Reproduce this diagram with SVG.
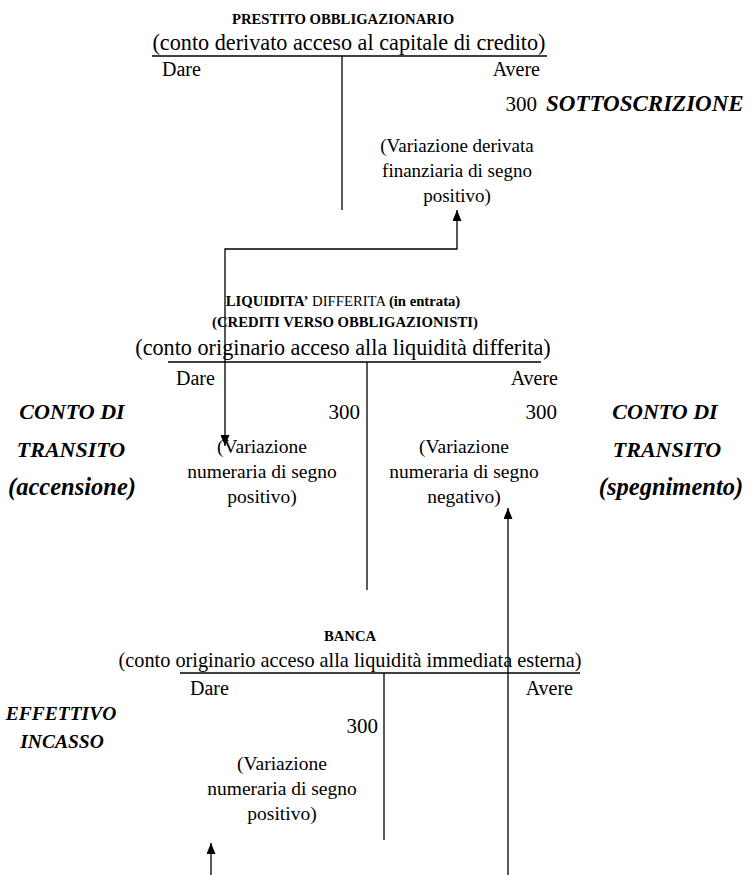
<svg xmlns="http://www.w3.org/2000/svg" width="754" height="875" viewBox="0 0 754 875">
<defs>
<marker id="arr" viewBox="0 0 11 9" markerWidth="11" markerHeight="9" refX="11" refY="4.5" orient="auto-start-reverse" markerUnits="userSpaceOnUse">
<path d="M0,0 L11,4.5 L0,9 z" fill="#000"/>
</marker>
<style>
text{font-family:"Liberation Serif","Times New Roman",Times,serif;fill:#000}
.h{font-size:14.7px;font-weight:bold}
.s{font-size:22.2px}
.da{font-size:20px}
.n{font-size:21px}
.v{font-size:19.5px}
.bi{font-size:22px;font-weight:bold;font-style:italic}
.bp{font-size:24.5px;font-weight:bold;font-style:italic}
.m{text-anchor:middle}
.e{text-anchor:end}
.ln{stroke:#000;stroke-width:1.3;fill:none}
</style>
</defs>
<rect width="754" height="875" fill="#fff"/>

<g id="prestito">
<text class="h m" x="343" y="24">PRESTITO OBBLIGAZIONARIO</text>
<text class="s m" x="349" y="50">(conto derivato acceso al capitale di credito)</text>
<line class="ln" x1="152" y1="56" x2="547" y2="56"/>
<line class="ln" x1="342" y1="56" x2="342" y2="210"/>
<text class="da" x="162" y="76">Dare</text>
<text class="da e" x="540" y="76">Avere</text>
<text class="n e" x="537" y="111">300</text>
<text class="bi" x="546" y="111" style="font-size:23px">SOTTOSCRIZIONE</text>
<text class="v m" x="457" y="152" style="font-size:19px">(Variazione derivata</text>
<text class="v m" x="457" y="177" style="font-size:19px">finanziaria di segno</text>
<text class="v m" x="457" y="202" style="font-size:19px">positivo)</text>
</g>

<g id="liquidita">
<text class="h m" x="343" y="306"><tspan>LIQUIDITA’</tspan><tspan font-weight="normal"> DIFFERITA </tspan><tspan>(in entrata)</tspan></text>
<text class="h m" x="345" y="327">(CREDITI VERSO OBBLIGAZIONISTI)</text>
<text class="s m" x="343" y="355">(conto originario acceso alla liquidità differita)</text>
<line class="ln" x1="168" y1="362" x2="541" y2="362"/>
<line class="ln" x1="367" y1="362" x2="367" y2="590"/>
<text class="da" x="176" y="385">Dare</text>
<text class="da e" x="558" y="385">Avere</text>
<text class="n e" x="360" y="419">300</text>
<text class="n e" x="557" y="419">300</text>
<text class="v m" x="262" y="453">(Variazione</text>
<text class="v m" x="262" y="478">numeraria di segno</text>
<text class="v m" x="262" y="503">positivo)</text>
<text class="v m" x="464" y="453">(Variazione</text>
<text class="v m" x="464" y="478">numeraria di segno</text>
<text class="v m" x="464" y="503">negativo)</text>
<text class="bi m" x="72" y="419">CONTO DI</text>
<text class="bi m" x="71" y="457">TRANSITO</text>
<text class="bp m" x="72" y="495">(accensione)</text>
<text class="bi m" x="665" y="419">CONTO DI</text>
<text class="bi m" x="667" y="457">TRANSITO</text>
<text class="bp m" x="671" y="495">(spegnimento)</text>
</g>

<g id="banca">
<text class="h m" x="350" y="641">BANCA</text>
<text class="s m" x="350" y="667" style="font-size:20.3px">(conto originario acceso alla liquidità immediata esterna)</text>
<line class="ln" x1="180" y1="673" x2="580" y2="673"/>
<line class="ln" x1="384" y1="673" x2="384" y2="840"/>
<text class="da" x="190" y="695">Dare</text>
<text class="da e" x="573" y="695">Avere</text>
<text class="n e" x="378" y="733">300</text>
<text class="bi m" x="61" y="720" style="font-size:19.5px">EFFETTIVO</text>
<text class="bi m" x="62" y="748" style="font-size:19.5px">INCASSO</text>
<text class="v m" x="282" y="770">(Variazione</text>
<text class="v m" x="282" y="795">numeraria di segno</text>
<text class="v m" x="282" y="820">positivo)</text>
</g>

<g id="connectors">
<path class="ln" d="M225,446 L225,249 L457,249 L457,210" marker-start="url(#arr)" marker-end="url(#arr)"/>
<path class="ln" d="M508,875 L508,508" marker-end="url(#arr)"/>
<path class="ln" d="M211,875 L211,843" marker-end="url(#arr)"/>
</g>
</svg>
